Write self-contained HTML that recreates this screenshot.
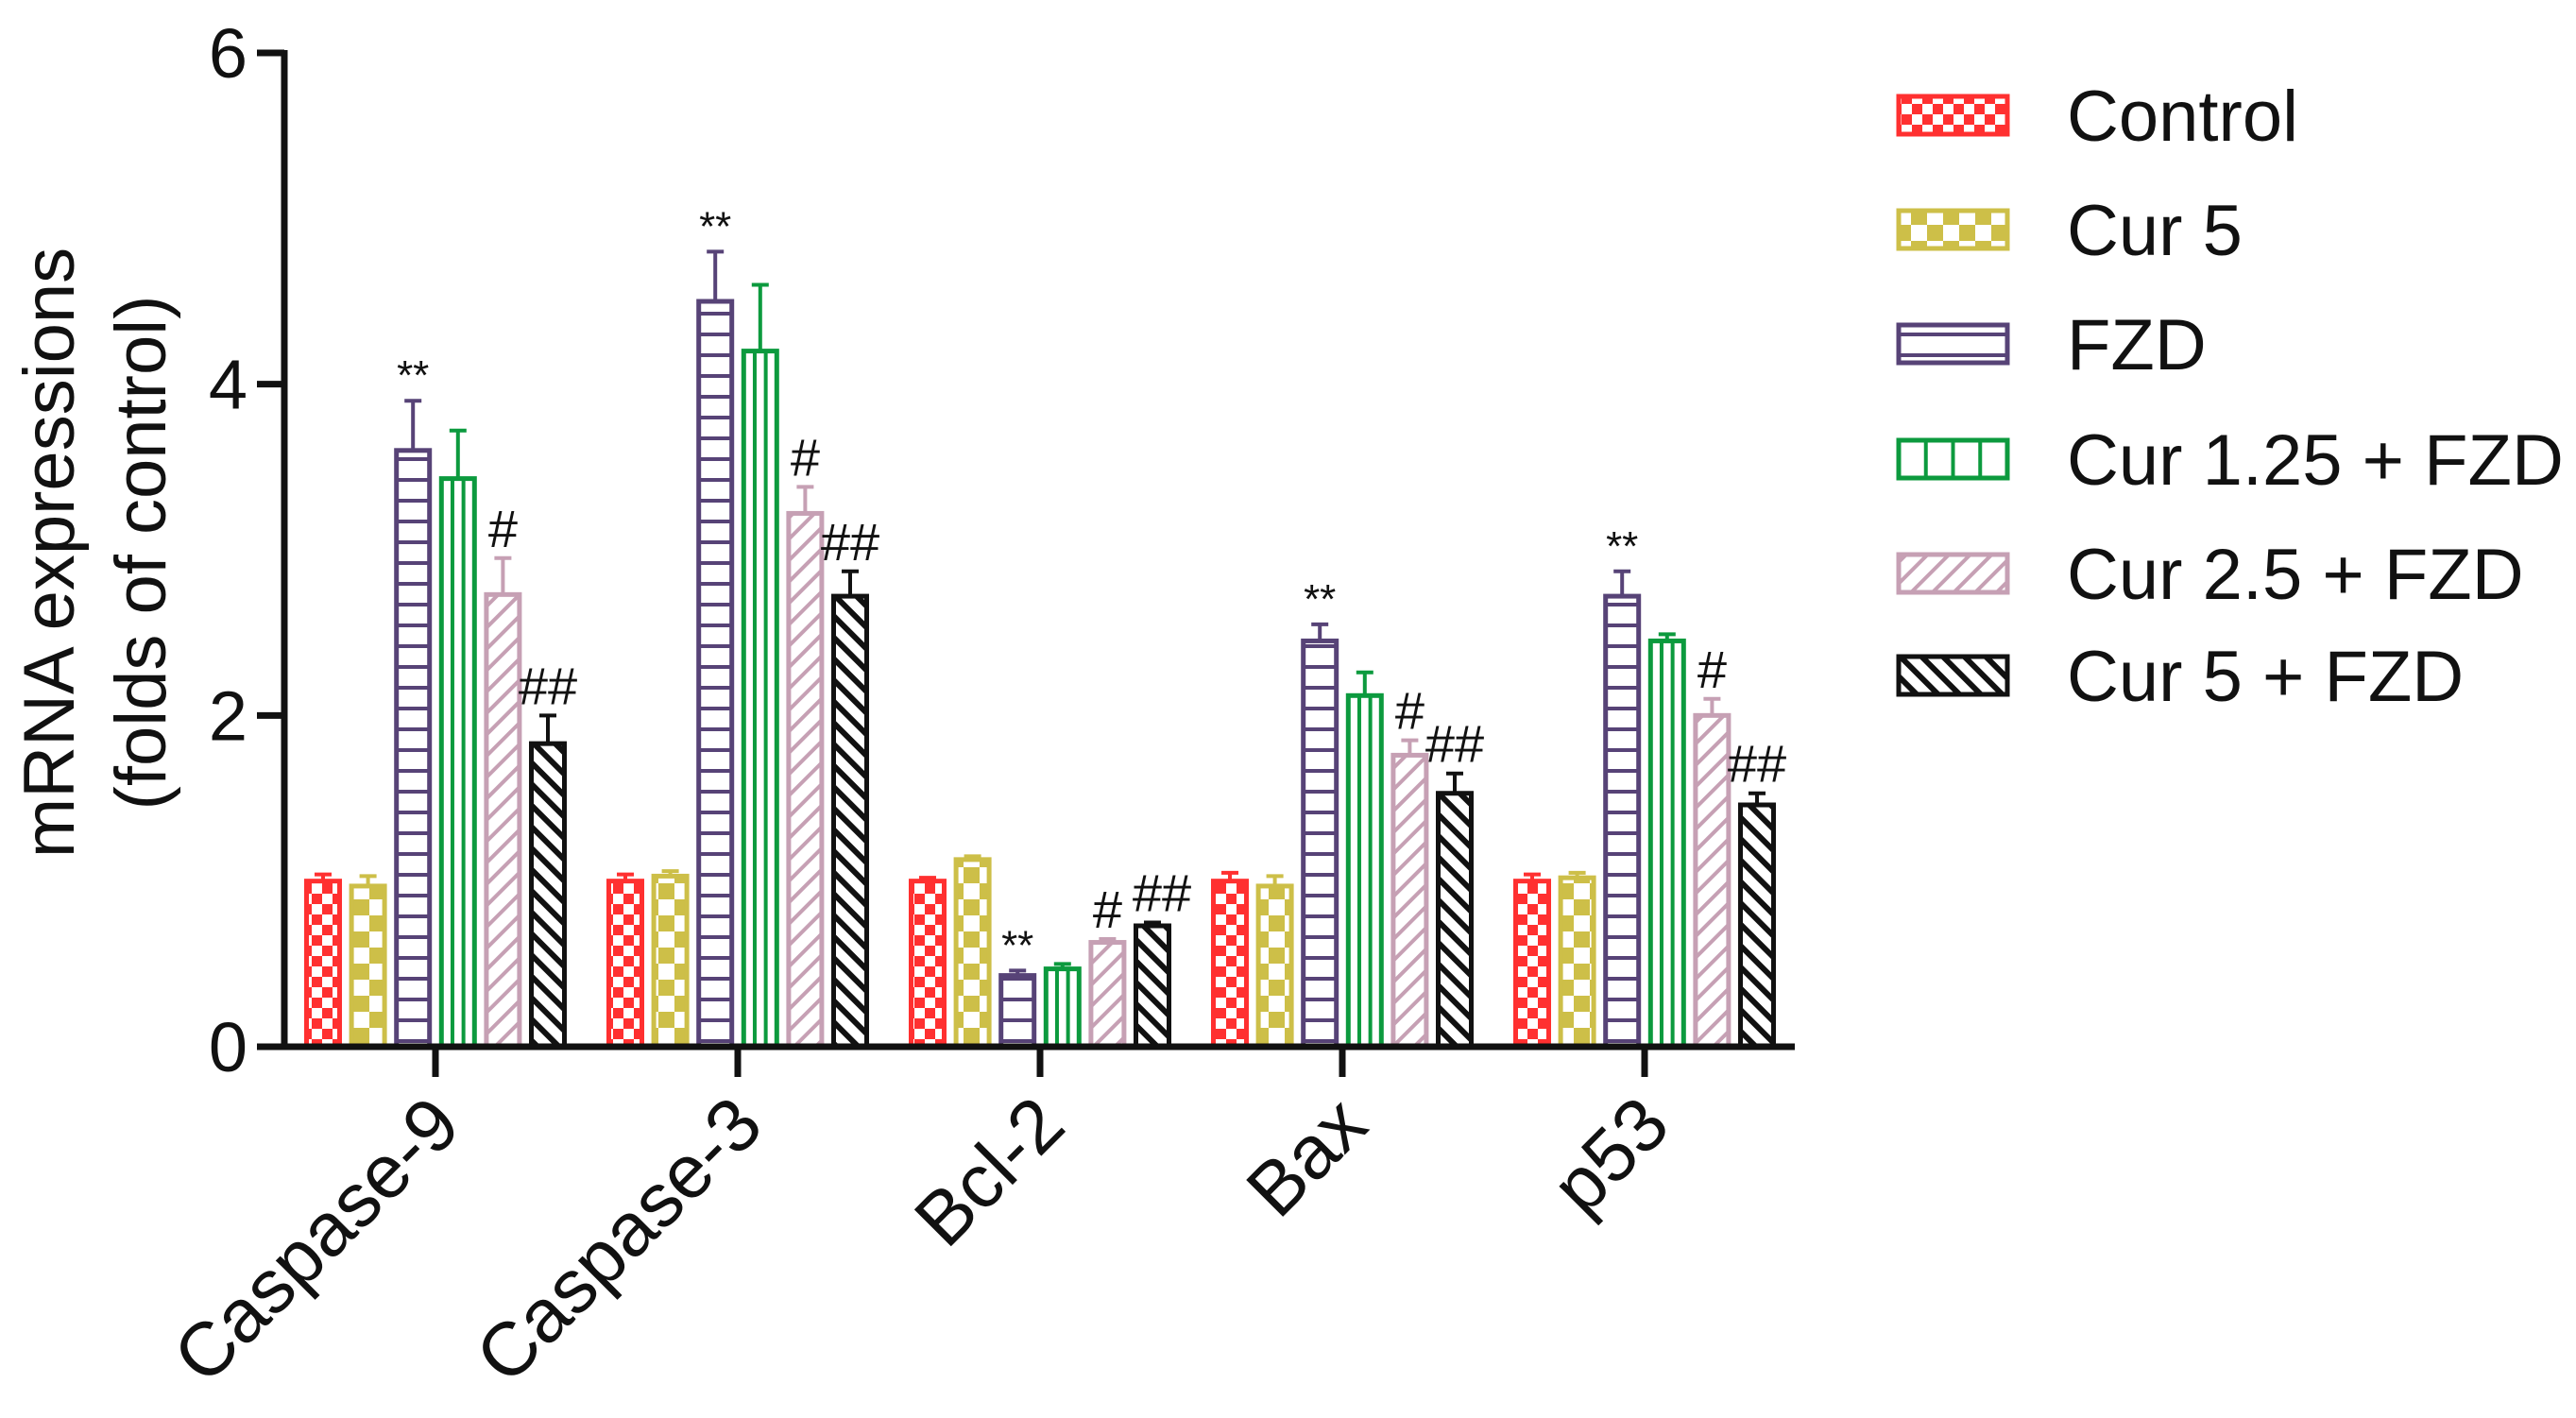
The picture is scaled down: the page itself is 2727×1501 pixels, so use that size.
<!DOCTYPE html>
<html><head><meta charset="utf-8"><style>
html,body{margin:0;padding:0;background:#fff;}
svg{display:block;font-family:"Liberation Sans",Arial,sans-serif;}
</style></head><body>
<svg id="chart" width="2727" height="1501" viewBox="0 0 2727 1501" xmlns="http://www.w3.org/2000/svg">
<defs>
<pattern id="p0" patternUnits="userSpaceOnUse" width="22" height="22"><rect width="22" height="22" fill="#fff"/><rect width="11" height="11" fill="#ff3030"/><rect x="11" y="11" width="11" height="11" fill="#ff3030"/></pattern>
<pattern id="p1" patternUnits="userSpaceOnUse" width="34" height="34"><rect width="34" height="34" fill="#fff"/><rect width="17" height="17" fill="#cdbf48"/><rect x="17" y="17" width="17" height="17" fill="#cdbf48"/></pattern>
<pattern id="p2" patternUnits="userSpaceOnUse" width="20" height="22"><rect width="20" height="22" fill="#fff"/><rect y="0" width="20" height="4" fill="#574377"/></pattern>
<pattern id="p4" patternUnits="userSpaceOnUse" width="16" height="16" patternTransform="rotate(45)"><rect width="16" height="16" fill="#fff"/><rect width="4" height="16" fill="#c6a0b4"/></pattern>
<pattern id="p5" patternUnits="userSpaceOnUse" width="16" height="16" patternTransform="rotate(-45)"><rect width="16" height="16" fill="#fff"/><rect width="6" height="16" fill="#111"/></pattern>
</defs>
<g id="plot"></g>
</svg>
<script>
const categories = ["Caspase-9","Caspase-3","Bcl-2","Bax","p53"];
const seriesNames = ["Control","Cur 5","FZD","Cur 1.25 + FZD","Cur 2.5 + FZD","Cur 5 + FZD"];
const control = [1.0,1.0,1.0,1.0,1.0];
const cur5 = [0.97,1.03,1.13,0.97,1.02];
const fzd = [3.6,4.5,0.43,2.45,2.72];
const cur125fzd = [3.43,4.2,0.47,2.12,2.45];
const cur25fzd = [2.73,3.22,0.63,1.76,2.0];
const cur5fzd = [1.83,2.72,0.73,1.53,1.46];
const controlErr = [0.04,0.04,0.02,0.05,0.04];
const cur5Err = [0.06,0.03,0.02,0.06,0.03];
const fzdErr = [0.3,0.3,0.03,0.1,0.15];
const cur125fzdErr = [0.29,0.4,0.03,0.14,0.04];
const cur25fzdErr = [0.22,0.16,0.02,0.09,0.1];
const cur5fzdErr = [0.17,0.15,0.02,0.12,0.07];
const annotations = [["","","**","","#","##"],["","","**","","#","##"],["","","**","","#","##"],["","","**","","#","##"],["","","**","","#","##"]];
const yTicks = [0,2,4,6];

const values=[control,cur5,fzd,cur125fzd,cur25fzd,cur5fzd];
const errs=[controlErr,cur5Err,fzdErr,cur125fzdErr,cur25fzdErr,cur5fzdErr];
const colors=["#ff3030","#cdbf48","#574377","#0c9a3e","#c6a0b4","#111111"];
const fills=["url(#p0)","url(#p1)","url(#p2)","#fff","url(#p4)","url(#p5)"];
const NS="http://www.w3.org/2000/svg";
const g=document.getElementById('plot');
const x0=301,x1=1900,yBase=1108,yTop=56,yMax=6;
const y=v=>yBase-(yBase-yTop)*v/yMax;
const groupCenter=i=>461+i*320;
const barW=35,step=47.6;
const barX=(i,s)=>groupCenter(i)+(s-2.5)*step-barW/2;
function el(t,a,txt){const e=document.createElementNS(NS,t);for(const k in a)e.setAttribute(k,a[k]);if(txt!==undefined)e.textContent=txt;g.appendChild(e);return e;}

for(let i=0;i<categories.length;i++){
  for(let s=0;s<6;s++){
    const v=values[s][i],bx=barX(i,s),top=y(v),ey=y(v+errs[s][i]),cx=bx+barW/2;
    const eb=el('path',{d:`M${cx} ${top} V${ey} M${cx-9} ${ey} H${cx+9}`,stroke:colors[s],'stroke-width':4,fill:'none'});
    
    
    const r=el('rect',{x:bx,y:top,width:barW,height:yBase-top,fill:fills[s],stroke:colors[s],'stroke-width':5});
    
    
    if(s===3){
      for(let k=1;k<3;k++){const ln=el('line',{x1:bx+k*barW/3,x2:bx+k*barW/3,y1:top,y2:yBase,stroke:colors[s],'stroke-width':4});
        
        }
    }
    const a=annotations[i][s];
    if(a){const t=el('text',{x:cx+(a==='##'&&i===2?10:0),y:ey-12,'text-anchor':'middle','font-size':a==='**'?44:56,fill:'#111'},a);
      
      }
  }
  const tk=el('line',{x1:groupCenter(i),x2:groupCenter(i),y1:yBase,y2:yBase+32,stroke:'#111','stroke-width':7});
  
  
  const cx=groupCenter(i)+30,cy=1195;
  const lab=el('text',{x:cx,y:cy,'text-anchor':'end','font-size':80,fill:'#111',transform:`rotate(-45 ${cx} ${cy})`},categories[i]);
  
  
}
for(const t of yTicks){
  const ln=el('line',{x1:272,x2:x0,y1:y(t),y2:y(t),stroke:'#111','stroke-width':7});
  
  
  const tx=el('text',{x:262,y:y(t)+26,'text-anchor':'end','font-size':74,fill:'#111'},t);
  
  
}
const ya=el('line',{x1:x0,x2:x0,y1:yTop-3,y2:yBase+3,stroke:'#111','stroke-width':7});


const xa=el('line',{x1:x0-3,x2:x1,y1:yBase,y2:yBase,stroke:'#111','stroke-width':7});


const yt1=el('text',{x:0,y:0,'text-anchor':'middle','font-size':76,fill:'#111',transform:'translate(78 585) rotate(-90)'},'mRNA expressions');


const yt2=el('text',{x:0,y:0,'text-anchor':'middle','font-size':76,fill:'#111',transform:'translate(175 585) rotate(-90)'},'(folds of control)');


const legY=[122,243,364,486,607,715];
for(let s=0;s<6;s++){
  const r=el('rect',{x:2010,y:legY[s]-20,width:115,height:40,fill:fills[s],stroke:colors[s],'stroke-width':5});
  
  
  if(s===3){for(let k=1;k<4;k++){const ln=el('line',{x1:2010+k*28.75,x2:2010+k*28.75,y1:legY[s]-20,y2:legY[s]+20,stroke:colors[s],'stroke-width':4});
    
    }}
  const t=el('text',{x:2188,y:legY[s]+27,'font-size':76,fill:'#111'},seriesNames[s]);
  
  
}
</script>
</body></html>
